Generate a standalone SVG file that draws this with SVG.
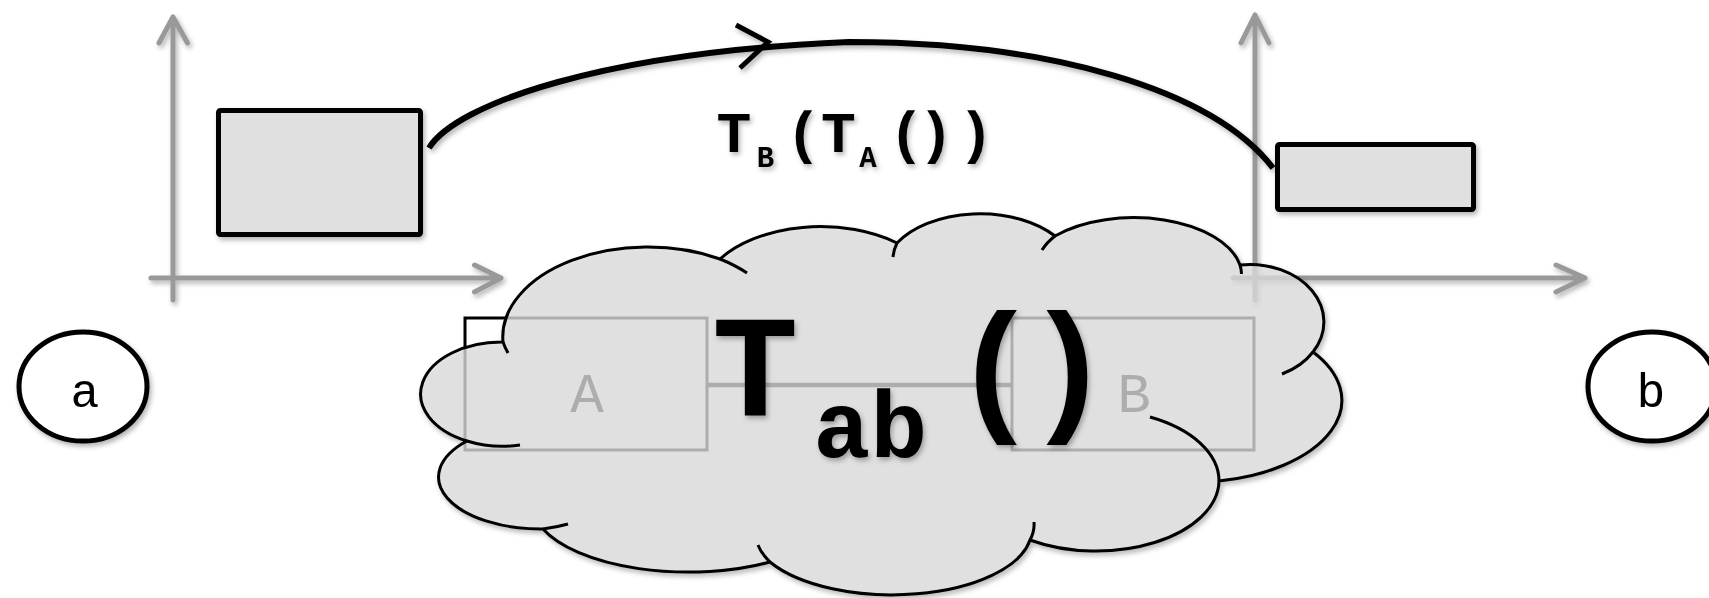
<svg xmlns="http://www.w3.org/2000/svg" width="1709" height="598" viewBox="0 0 1709 598">
<defs>
<filter id="sh" x="-10%" y="-10%" width="130%" height="140%"><feDropShadow dx="2" dy="3" stdDeviation="2.5" flood-color="#000" flood-opacity="0.3"/></filter>
<style>
.axis{fill:none;stroke:#999;stroke-width:5;stroke-linecap:round;stroke-linejoin:round}
.pbox{fill:#e0e0e0;stroke:#000;stroke-width:5}
.node{fill:#fff;stroke:#000;stroke-width:5}
.blk{fill:#fff;stroke:#000;stroke-width:3}
.link{stroke:#999;stroke-width:3;fill:none}
.mono{font-family:"Liberation Mono","Courier New",monospace}
.mid{text-anchor:middle}
.cloudfill{fill:#e0e0e0;fill-opacity:0.74;stroke:#000;stroke-width:3;stroke-linejoin:round}
.stub{fill:none;stroke:#000;stroke-width:3;stroke-linecap:butt}
</style>
</defs>
<rect width="1709" height="598" fill="#fff"/>

<g id="chart-left" filter="url(#sh)">
<path class="axis" d="M151,278 H501 M474.5,265 L501,278 L474.5,292 M173,300 V17 M159,43 L173,17 L187.5,43"/>
</g>
<g id="chart-right" filter="url(#sh)">
<path class="axis" d="M1233,278 H1585 M1556,265 L1585,278 L1556,292 M1255,300 V15 M1241,43 L1255,15 L1269,43"/>
</g>

<g id="connectors">
<line class="link" x1="149" y1="385" x2="465" y2="385" filter="url(#sh)"/>
<line x1="707" y1="385" x2="1012" y2="385" stroke="#000" stroke-width="4.5"/>
<line class="link" x1="1254" y1="385" x2="1588" y2="385" filter="url(#sh)"/>
<g filter="url(#sh)" fill="none" stroke="#000">
<path stroke-width="6" d="M429,148 C456,104 604,52 849,42 C1049,42 1212,89 1273,168"/>
<path stroke-width="5" d="M736,25 L768,42 L740,68"/>
</g>
</g>

<g id="node-A">
<rect class="blk" x="465" y="318" width="242" height="132"/>
<text class="mono mid" x="587" y="412" font-size="56" fill="#000">A</text>
</g>
<g id="node-B">
<rect class="blk" x="1012" y="318" width="242" height="132"/>
<text class="mono mid" x="1134" y="412" font-size="56" fill="#000">B</text>
</g>

<g id="cloud">
<path class="cloudfill" filter="url(#sh)" d="M467,441 A81 52 0 0 1 503 342 A145 90 0 0 1 720 259 A121 73 0 0 1 897 243 A96 59 0 0 1 1055 236 A108 58 0 0 1 1240 265 A74 57.5 0 0 1 1313 352 A150 82 0 0 1 1219 481 A123 71 0 0 1 1030 540 A140 65 0 0 1 770 562 A156 68 0 0 1 543 529 A102 52 0 0 1 467 441 Z"/>
<path class="stub" d="M467,441 A81 52 0 0 0 520 445 M503,342 A145 90 0 0 0 508 353 M720,259 A145 90 0 0 1 747 273 M897,243 A96 59 0 0 0 893 257 M1055,236 A108 58 0 0 0 1042 250 M1240,265 A108 58 0 0 1 1241.5 274 M1313,352 A74 57.5 0 0 1 1282 374 M1219,481 A123 71 0 0 0 1150 417 M1030,540 A140 65 0 0 0 1034 522 M770,562 A140 65 0 0 1 758 545 M543,529 A102 52 0 0 0 568 524"/>
</g>

<g id="label-Tab" filter="url(#sh)" font-weight="bold" fill="#000">
<text class="mono" font-size="144" x="712" y="415">T<tspan dx="14.8" dy="42" font-size="95">ab</tspan><tspan dx="24.8" dy="-42" letter-spacing="-13.4">()</tspan></text>
</g>

<g id="node-a" filter="url(#sh)">
<ellipse class="node" cx="83" cy="386.5" rx="64" ry="54.5"/>
<text class="mono mid" x="85" y="407" font-size="48">a</text>
</g>
<g id="node-b" filter="url(#sh)">
<ellipse class="node" cx="1652" cy="386.5" rx="64" ry="54.5"/>
<text class="mono mid" x="1651" y="407" font-size="48">b</text>
</g>

<g id="box-before" filter="url(#sh)">
<rect class="pbox" x="218.5" y="110.5" width="202" height="124" rx="2"/>
</g>
<g id="box-after" filter="url(#sh)">
<rect class="pbox" x="1277.5" y="144.5" width="196" height="65" rx="2"/>
</g>

<g id="label-TBTA" filter="url(#sh)" font-weight="bold" fill="#000">
<text class="mono" font-size="58" x="716.6" y="152">T<tspan dx="5.4" dy="15" font-size="29">B</tspan><tspan dx="11.9" dy="-15">(T</tspan><tspan dx="3.4" dy="15" font-size="29">A</tspan><tspan dx="12.4" dy="-15" letter-spacing="-5.3">(</tspan><tspan>)</tspan><tspan dx="5.2">)</tspan></text>
</g>
</svg>
